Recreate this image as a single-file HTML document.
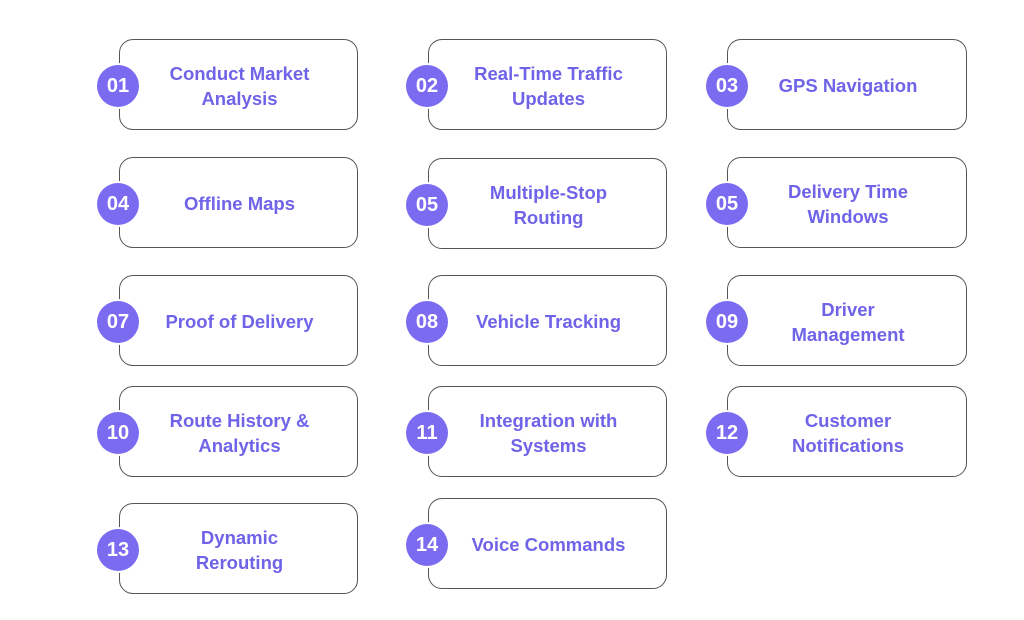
<!DOCTYPE html>
<html>
<head>
<meta charset="utf-8">
<style>
html,body{margin:0;padding:0;background:#fff;}
body{width:1024px;height:620px;position:relative;overflow:hidden;font-family:"Liberation Sans",Arial,sans-serif;}
.box{position:absolute;width:237px;border:1.6px solid #555;border-radius:14px;background:#fff;box-sizing:border-box;display:flex;align-items:center;justify-content:center;}
.box span{display:block;text-align:center;color:#6f63e8;font-weight:bold;font-size:18.5px;line-height:24.5px;padding-left:2px;margin-top:4px;}
.c{position:absolute;width:42px;height:42px;border-radius:50%;background:#7a6bf1;color:#fff;font-weight:bold;font-size:20px;line-height:42px;text-align:center;box-shadow:0 0 0 2px #fff;}
</style>
</head>
<body>
<!-- row 1 -->
<div class="box" style="left:119px;top:39px;height:91px;width:239px;"><span>Conduct Market<br>Analysis</span></div>
<div class="c" style="left:97px;top:65px;">01</div>
<div class="box" style="left:428px;top:39px;height:91px;width:239px;"><span>Real-Time Traffic<br>Updates</span></div>
<div class="c" style="left:406px;top:65px;">02</div>
<div class="box" style="left:727px;top:39px;height:91px;width:240px;"><span>GPS Navigation</span></div>
<div class="c" style="left:706px;top:65px;">03</div>

<!-- row 2 -->
<div class="box" style="left:119px;top:157px;height:91px;width:239px;"><span>Offline Maps</span></div>
<div class="c" style="left:97px;top:183px;">04</div>
<div class="box" style="left:428px;top:158px;height:91px;width:239px;"><span>Multiple-Stop<br>Routing</span></div>
<div class="c" style="left:406px;top:184px;">05</div>
<div class="box" style="left:727px;top:157px;height:91px;width:240px;"><span>Delivery Time<br>Windows</span></div>
<div class="c" style="left:706px;top:183px;">05</div>

<!-- row 3 -->
<div class="box" style="left:119px;top:275px;height:91px;width:239px;"><span>Proof of Delivery</span></div>
<div class="c" style="left:97px;top:301px;">07</div>
<div class="box" style="left:428px;top:275px;height:91px;width:239px;"><span>Vehicle Tracking</span></div>
<div class="c" style="left:406px;top:301px;">08</div>
<div class="box" style="left:727px;top:275px;height:91px;width:240px;"><span>Driver<br>Management</span></div>
<div class="c" style="left:706px;top:301px;">09</div>

<!-- row 4 -->
<div class="box" style="left:119px;top:386px;height:91px;width:239px;"><span>Route History &amp;<br>Analytics</span></div>
<div class="c" style="left:97px;top:412px;">10</div>
<div class="box" style="left:428px;top:386px;height:91px;width:239px;"><span>Integration with<br>Systems</span></div>
<div class="c" style="left:406px;top:412px;">11</div>
<div class="box" style="left:727px;top:386px;height:91px;width:240px;"><span>Customer<br>Notifications</span></div>
<div class="c" style="left:706px;top:412px;">12</div>

<!-- row 5 -->
<div class="box" style="left:119px;top:503px;height:91px;width:239px;"><span>Dynamic<br>Rerouting</span></div>
<div class="c" style="left:97px;top:529px;">13</div>
<div class="box" style="left:428px;top:498px;height:91px;width:239px;"><span>Voice Commands</span></div>
<div class="c" style="left:406px;top:524px;">14</div>
</body>
</html>
